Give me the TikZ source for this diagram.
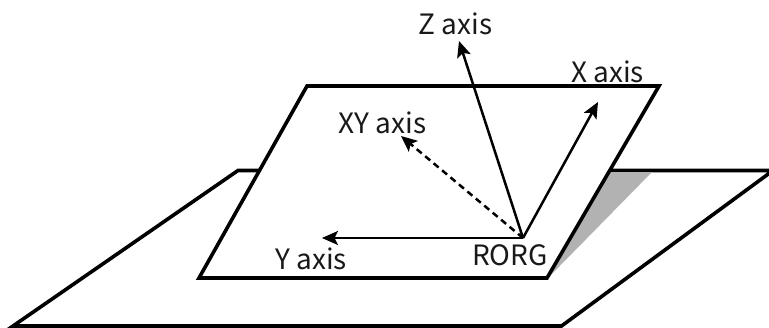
\documentclass[tikz,border=0pt]{standalone}
\usepackage{fontspec}
\setmainfont{Noto Sans CJK JP}
\usetikzlibrary{arrows.meta}
\tikzset{
  plane/.style={draw=black,line width=3.6pt,fill=white,line join=miter},
  shadow/.style={fill=black!30,draw=none},
  axis/.style={draw=black,line width=2.5pt,-{Stealth[length=16pt,width=14pt,inset=3.5pt]}},
  dashaxis/.style={axis,dash pattern=on 6.5pt off 4.5pt},
  lbl/.style={inner sep=0pt,font=\fontsize{28pt}{30pt}\selectfont,text=black!90}
}
\begin{document}
\begin{tikzpicture}[x=1pt,y=-1pt]
\useasboundingbox (0,0) rectangle (769,327);
\fill[white] (0,0) rectangle (769,327);
\begin{scope}
\clip (0,0) rectangle (769,327);
\draw[plane] (238,170.5) -- (773,170.5) -- (561.5,326) -- (13,326) -- cycle;
\end{scope}
\fill[shadow] (609,172) -- (652,172) -- (546,280) -- cycle;
\draw[plane] (307,86) -- (659,86) -- (547,278) -- (199,278) -- cycle;
\coordinate (org) at (523,238);
\coordinate (ztip) at (459,41);
\coordinate (xtip) at (598,102);
\coordinate (xytip) at (401,136);
\coordinate (ytip) at (322,238);
\draw[axis] (org) -- (ztip);
\draw[axis] (org) -- (xtip);
\draw[axis] (org) -- (ytip);
\draw[dashaxis] (org) -- (xytip);
\node[lbl] (zl) at (455.5,23.5) {Z axis};
\node[lbl] (xl) at (607.5,72) {X axis};
\node[lbl] (xyl) at (382.5,123) {XY axis};
\node[lbl] (yl) at (311,258.5) {Y axis};
\node[lbl] (rorg) at (510,255.5) {RORG};
\end{tikzpicture}
\end{document}
